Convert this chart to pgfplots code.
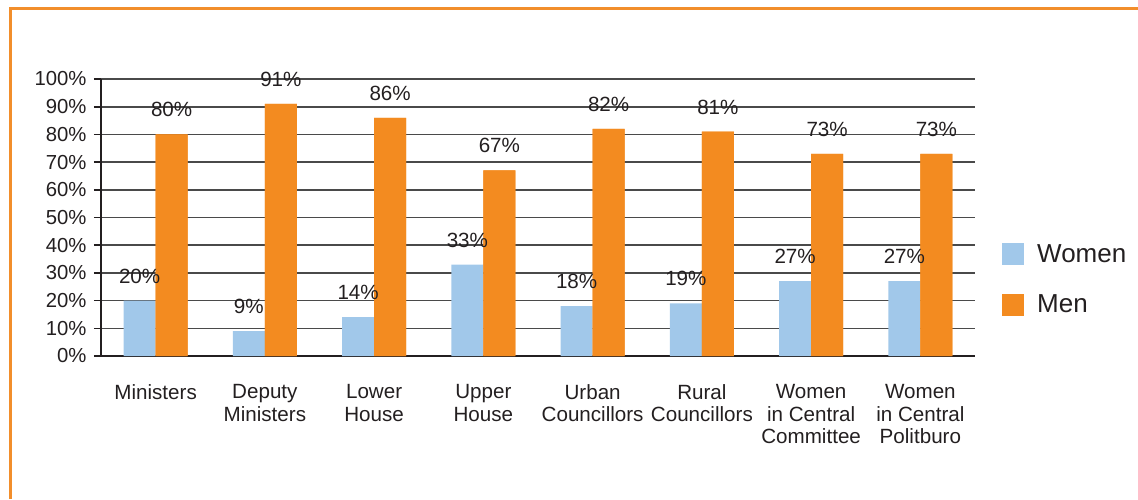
\documentclass[border=0pt]{standalone}
\usepackage{fontspec}
\setmainfont{Liberation Sans}
\usepackage{pgfplots}
\pgfplotsset{compat=1.18}
\definecolor{womenc}{HTML}{A1C8EA}
\definecolor{menc}{HTML}{F38B20}
\definecolor{framec}{HTML}{F28E2B}
\definecolor{txt}{HTML}{231F20}
\definecolor{gridc}{HTML}{4A4A4A}
\begin{document}
\begin{tikzpicture}
\path[use as bounding box] (0pt,0pt) rectangle (1138pt,-499pt);
\draw[framec, line width=3pt] (10pt,-499pt) -- (10pt,-8.7pt) -- (1138pt,-8.7pt);
\begin{axis}[
  at={(101pt,-356pt)}, anchor=south west,
  scale only axis, width=874pt, height=277pt,
  clip=false,
  ybar=0pt, bar width=32pt,
  ymin=0, ymax=100,
  xmin=-0.5, xmax=7.5,
  axis x line=bottom, axis y line=left,
  axis line style={-, line width=2pt, color=txt},
  ytick={0,10,...,100},
  yticklabels={0\%,10\%,20\%,30\%,40\%,50\%,60\%,70\%,80\%,90\%,100\%},
  ymajorgrids,
  major grid style={line width=1.6pt, color=gridc},
  tick align=outside,
  major tick length=7pt, minor tick length=7pt,
  ytick style={line width=1.6pt, color=txt},
  xtick={0,...,7},
  xtick style={draw=none},
  minor xtick={-0.5,0.5,...,7.5},
  minor x tick style={line width=1.6pt, color=txt},
  xticklabels={Ministers,{Deputy\\Ministers},{Lower\\House},{Upper\\House},{Urban\\Councillors},{Rural\\Councillors},{Women\\in Central\\Committee},{Women\\in Central\\Politburo}},
  xticklabel style={align=center, font=\fontsize{20.6}{22.5}\selectfont, text=txt, yshift=-18pt},
  yticklabel style={font=\fontsize{20.3}{24}\selectfont, text=txt, xshift=-4pt},
  every node near coord/.append style={font=\fontsize{20.6}{24}\selectfont, text=txt, anchor=base, yshift=17.5pt, inner sep=0pt},
  legend style={at={(1.0309,0.408)}, anchor=north west, draw=none, fill=none, inner sep=0pt,
    font=\fontsize{26}{30}\selectfont, text=txt, row sep=28.4pt, column sep=0pt,
    nodes={inner sep=0pt}},
  legend cell align=left,
  legend image code/.code={\fill[#1] (0pt,-11pt) rectangle (22pt,11pt); \path (35pt,0pt);},
]
\addplot[fill=womenc, draw=none, bar shift=-16pt,
  nodes near coords={\pgfmathprintnumber[assume math mode=true]{\pgfplotspointmeta}\%}]
  coordinates {(0,20) (1,9) (2,14) (3,33) (4,18) (5,19) (6,27) (7,27)};
\addplot[fill=menc, draw=none, bar shift=16pt,
  nodes near coords={\pgfmathprintnumber[assume math mode=true]{\pgfplotspointmeta}\%}]
  coordinates {(0,80) (1,91) (2,86) (3,67) (4,82) (5,81) (6,73) (7,73)};
\legend{Women,Men}
\addplot[fill=menc, draw=none, bar shift=16pt, forget plot]
  coordinates {(0,80) (1,91) (2,86) (3,67) (4,82) (5,81) (6,73) (7,73)};
\end{axis}
\end{tikzpicture}
\end{document}
